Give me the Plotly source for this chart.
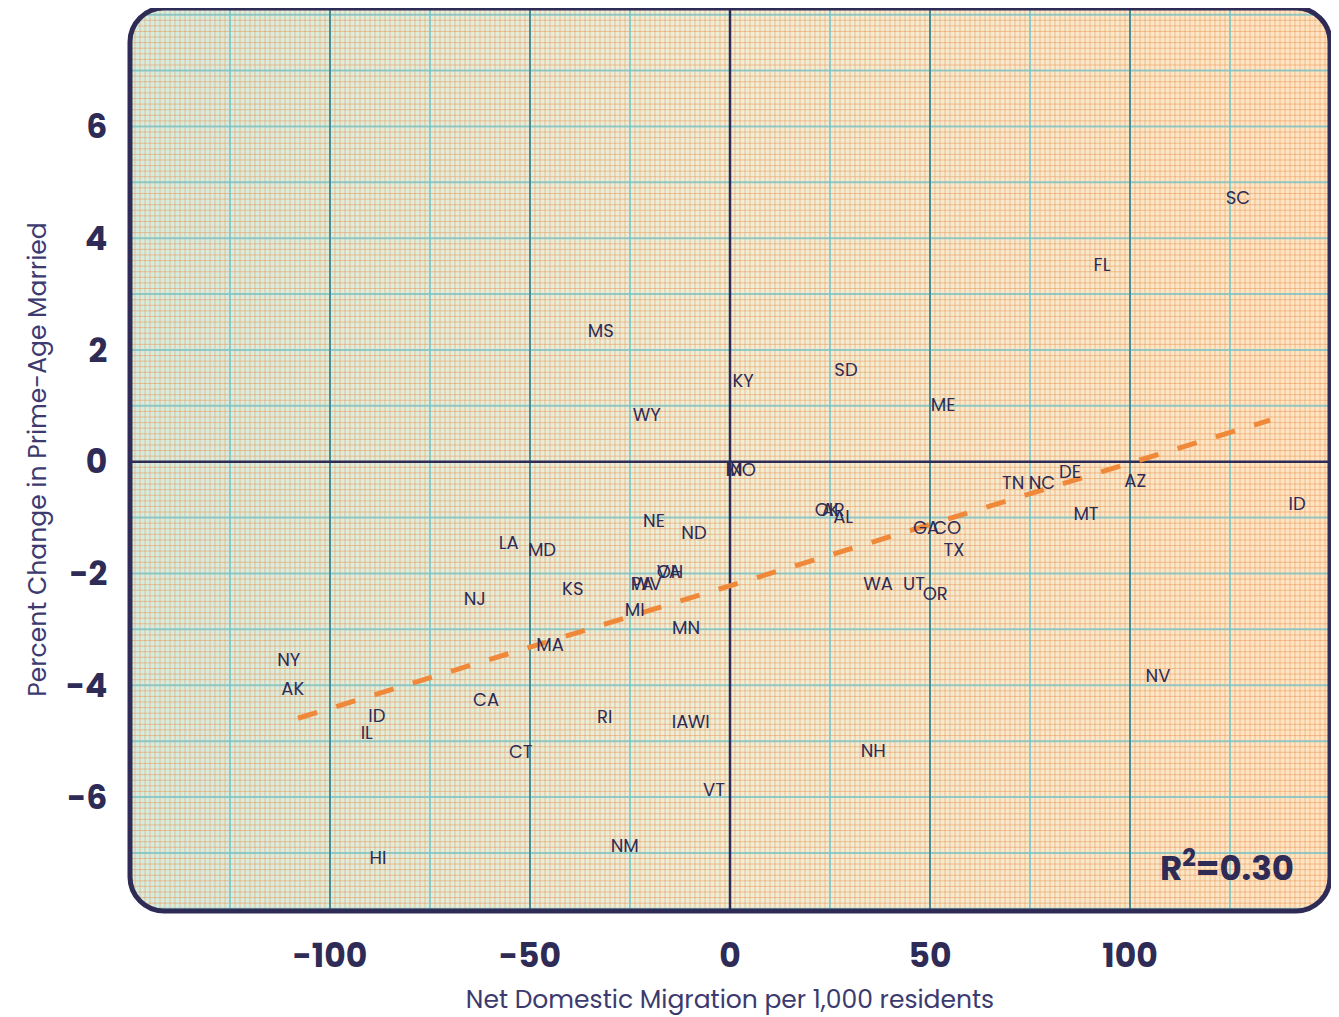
import numpy as np
import plotly.graph_objects as go

# ---------------- data ----------------
states = ["SC", "FL", "MS", "KY", "SD", "ME", "WY", "IN", "MO", "TN",
          "NC", "DE", "AZ", "ID", "MT", "OK", "AR", "AL", "GA", "CO",
          "TX", "WA", "UT", "OR", "NE", "ND", "LA", "MD", "VA", "OH",
          "PA", "WV", "KS", "NJ", "MI", "MN", "MA", "NY", "AK", "CA",
          "ID", "IL", "RI", "IA", "WI", "CT", "NH", "VT", "NM", "HI", "NV"]
net_migration = [127.0, 93.0, -32.3, 3.3, 29.0, 53.3, -20.8, 1.0, 2.8, 70.8,
                 78.0, 85.0, 101.3, 141.8, 89.0, 24.3, 25.8, 28.3, 49.0, 54.3,
                 56.0, 37.0, 46.0, 51.3, -19.0, -9.0, -55.3, -47.0, -15.3, -15.0,
                 -22.0, -20.8, -39.3, -63.8, -23.8, -11.0, -45.0, -110.3, -109.3, -61.0,
                 -88.3, -90.8, -31.3, -12.5, -7.8, -52.3, 35.8, -4.0, -26.3, -88.0, 107.0]
married_change = [4.54, 3.33, 2.15, 1.26, 1.45, 0.83, 0.65, -0.33, -0.33, -0.57,
                  -0.57, -0.37, -0.53, -0.94, -1.12, -1.05, -1.05, -1.17, -1.37, -1.37,
                  -1.76, -2.37, -2.37, -2.55, -1.24, -1.46, -1.65, -1.76, -2.17, -2.17,
                  -2.37, -2.37, -2.46, -2.65, -2.85, -3.17, -3.46, -3.74, -4.26, -4.46,
                  -4.74, -5.05, -4.76, -4.85, -4.85, -5.39, -5.37, -6.07, -7.07, -7.28, -4.03]

x_tick_values = [-100, -50, 0, 50, 100]
x_tick_labels = ["-100", "-50", "0", "50", "100"]
y_tick_values = [-6, -4, -2, 0, 2, 4, 6]
y_tick_labels = ["-6", "-4", "-2", "0", "2", "4", "6"]
trend_x_extent = [-108, 135]
r_squared_text = "R<sup>2</sup>=0.30"

x_title = "Net Domestic Migration per 1,000 residents"
y_title = "Percent Change in Prime-Age Married"

# ---------------- styling ----------------
W, H = 1331, 1009
MARGIN = dict(l=122, r=9, t=0, b=106)
X_RANGE = [-150, 150]
Y_RANGE = [-8.04, 8.12]
NAVY = "#2e2b56"
TEXT_FONT = "Poppins, Inter, Open Sans, sans-serif"

fig = go.Figure()

# background gradient (green -> orange)
fig.add_trace(go.Heatmap(
    x=X_RANGE, y=Y_RANGE, z=[[0, 1], [0, 1]], zmin=0, zmax=1,
    zsmooth="best", showscale=False, hoverinfo="skip",
    colorscale=[[0, "#d4ecdf"], [0.5, "#efeed6"], [1, "#fee4c2"]],
))


def line_set(vals, vertical, color, width):
    xs, ys = [], []
    for v in vals:
        if vertical:
            xs += [v, v, None]
            ys += [Y_RANGE[0] - 1, Y_RANGE[1] + 1, None]
        else:
            xs += [X_RANGE[0] - 10, X_RANGE[1] + 10, None]
            ys += [v, v, None]
    return go.Scatter(x=xs, y=ys, mode="lines", hoverinfo="skip",
                      line=dict(color=color, width=width), showlegend=False)


# fine orange graph-paper grid
minor_x = np.arange(-150, 150.01, 1.25)
minor_y = np.arange(-8.0, 8.11, 0.1)
fig.add_trace(line_set(minor_x, True, "rgba(236,145,80,0.5)", 1))
fig.add_trace(line_set(minor_y, False, "rgba(236,145,80,0.5)", 1))
# light teal grid
light_x = [v for v in np.arange(-125, 126, 25) if v % 50 != 0]
light_y = [v for v in np.arange(-8, 9, 1) if v != 0]
fig.add_trace(line_set(light_x, True, "rgba(115,198,204,0.75)", 2))
fig.add_trace(line_set(light_y, False, "rgba(115,198,204,0.75)", 2))
# dark teal grid
dark_x = [v for v in np.arange(-100, 101, 50) if v != 0]
fig.add_trace(line_set(dark_x, True, "#4e8b93", 2))
# zero lines
fig.add_trace(line_set([0], True, NAVY, 2.5))
fig.add_trace(line_set([0], False, NAVY, 2.5))

# regression line (least-squares fit of the data)
mx = np.array(net_migration)
my = np.array(married_change)
slope, intercept = np.polyfit(mx, my, 1)
tx = np.array(trend_x_extent, dtype=float)
fig.add_trace(go.Scatter(
    x=tx, y=slope * tx + intercept, mode="lines", hoverinfo="skip",
    line=dict(color="#f0883a", width=5, dash="20px,20px"), showlegend=False))

# state labels
fig.add_trace(go.Scatter(
    x=net_migration, y=married_change, text=states, mode="text",
    textposition="top center",
    textfont=dict(family=TEXT_FONT, size=18, color=NAVY), showlegend=False))

# rounded frame + corner masks
r_px = 34
pw = W - MARGIN["l"] - MARGIN["r"]
ph = H - MARGIN["t"] - MARGIN["b"]
rx, ry = r_px / pw, r_px / ph
k = 0.5523
shapes = []
corners = [
    (0, 0, 1, 1),
    (1, 0, -1, 1),
    (1, 1, -1, -1),
    (0, 1, 1, -1),
]
for cx, cy, sx, sy in corners:
    ax, ay = cx + sx * rx, cy
    bx, by = cx, cy + sy * ry
    c1x, c1y = cx + sx * rx * (1 - k), cy
    c2x, c2y = cx, cy + sy * ry * (1 - k)
    ext = 0.004
    path = (f"M {cx - sx*ext},{cy - sy*ext} L {ax},{ay - sy*ext} L {ax},{ay} "
            f"C {c1x},{c1y} {c2x},{c2y} {bx},{by} L {bx - sx*ext},{by} Z")
    shapes.append(dict(type="path", xref="paper", yref="paper", path=path,
                       fillcolor="white", line=dict(width=0), layer="above"))

frame = (f"M {rx},0 L {1-rx},0 C {1-rx*(1-k)},0 1,{ry*(1-k)} 1,{ry} "
         f"L 1,{1-ry} C 1,{1-ry*(1-k)} {1-rx*(1-k)},1 {1-rx},1 "
         f"L {rx},1 C {rx*(1-k)},1 0,{1-ry*(1-k)} 0,{1-ry} "
         f"L 0,{ry} C 0,{ry*(1-k)} {rx*(1-k)},0 {rx},0 Z")
shapes.append(dict(type="path", xref="paper", yref="paper", path=frame,
                   line=dict(color=NAVY, width=5), fillcolor="rgba(0,0,0,0)",
                   layer="above"))

fig.update_layout(
    width=W, height=H, margin=MARGIN,
    paper_bgcolor="white", plot_bgcolor="white",
    showlegend=False, shapes=shapes,
    annotations=[dict(xref="paper", yref="paper", x=0.972, y=0.049,
                      xanchor="right", yanchor="middle", text=r_squared_text,
                      showarrow=False,
                      font=dict(family=TEXT_FONT, size=34, color=NAVY, weight="bold"))],
)
fig.update_xaxes(
    range=X_RANGE, showgrid=False, zeroline=False, showline=False,
    tickmode="array", tickvals=x_tick_values, ticktext=x_tick_labels,
    ticks="outside", ticklen=15, tickcolor="rgba(0,0,0,0)",
    tickfont=dict(family=TEXT_FONT, size=33, color=NAVY, weight="bold"),
    title=dict(text=x_title, standoff=21,
               font=dict(family=TEXT_FONT, size=25, color="#3c3a6e")),
    automargin=False,
)
fig.update_yaxes(
    range=Y_RANGE, showgrid=False, zeroline=False, showline=False,
    tickmode="array", tickvals=y_tick_values, ticktext=y_tick_labels,
    ticks="outside", ticklen=15, tickcolor="rgba(0,0,0,0)",
    tickfont=dict(family=TEXT_FONT, size=33, color=NAVY, weight="bold"),
    title=dict(text=y_title, standoff=12,
               font=dict(family=TEXT_FONT, size=25, color="#3c3a6e")),
    automargin=False,
)

fig.write_html("out.html")
